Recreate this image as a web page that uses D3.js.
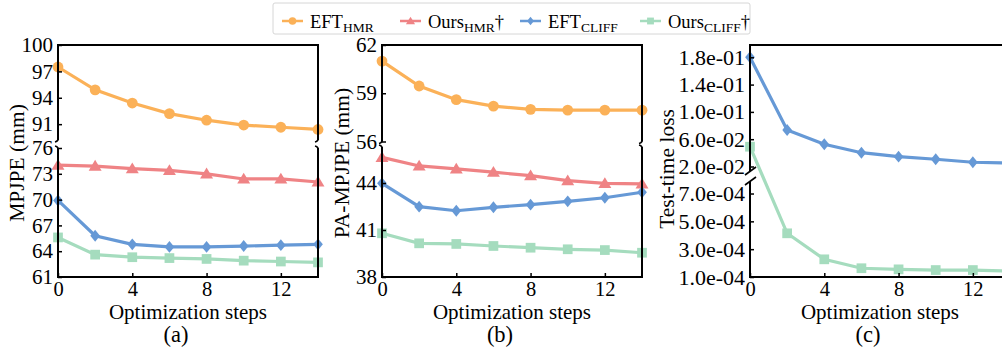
<!DOCTYPE html>
<html lang="en">
<head>
<meta charset="UTF-8">
<title>Optimization steps</title>
<script src="https://cdn.jsdelivr.net/npm/d3@7"></script>
<style>
    body { margin: 0; background: #fff; }
    svg { display: block; font-family: "Liberation Serif", "Times New Roman", serif; }
</style>
</head>
<body>
<svg width="1002" height="352"></svg>
<script>
    // data
    var steps = [0, 2, 4, 6, 8, 10, 12, 14];

    // (a) MPJPE
    var mpjpeEftHmr   = [97.5, 94.9, 93.4, 92.2, 91.45, 90.9, 90.65, 90.4];
    var mpjpeOursHmr  = [74.0, 73.9, 73.6, 73.4, 73.0, 72.4, 72.4, 72.05];
    var mpjpeEftCliff = [69.9, 65.8, 64.8, 64.5, 64.5, 64.6, 64.7, 64.8];
    var mpjpeOursCliff= [65.6, 63.6, 63.3, 63.2, 63.1, 62.9, 62.8, 62.7];

    // (b) PA-MPJPE
    var pampjpeEftHmr   = [61.0, 59.45, 58.6, 58.2, 58.0, 57.95, 57.95, 57.95];
    var pampjpeOursHmr  = [45.64, 45.09, 44.9, 44.69, 44.47, 44.15, 43.98, 43.94];
    var pampjpeEftCliff = [43.98, 42.49, 42.23, 42.45, 42.62, 42.83, 43.06, 43.41];
    var pampjpeOursCliff= [40.79, 40.15, 40.11, 39.98, 39.87, 39.77, 39.72, 39.55];

    // (c) test-time loss
    var lossEftCliff  = [0.180, 0.0735, 0.0525, 0.0402, 0.0344, 0.0306, 0.0262, 0.025];
    var lossOursCliff = [0.049, 4.14e-4, 2.27e-4, 1.63e-4, 1.55e-4, 1.5e-4, 1.5e-4, 1.43e-4];

    // tick labels
    var xTicks = [0, 4, 8, 12];
    var yTicksA = [61, 64, 67, 70, 73, 76, 91, 94, 97, 100];
    var yTicksB = [38, 41, 44, 56, 59, 62];
    var yTicksC = [1e-4, 3e-4, 5e-4, 7e-4, 0.02, 0.06, 0.10, 0.14, 0.18];

    // legend
    var seriesName = ['EFT', 'Ours', 'EFT', 'Ours'];
    var seriesSub = ['HMR', 'HMR', 'CLIFF', 'CLIFF'];
    var seriesMark = ['', '†', '', '†'];
    var colors = ['#FBB158', '#EF8385', '#6699D6', '#A5DCBE'];
    var shapes = ['circle', 'triangle', 'diamond', 'square'];

    var svg = d3.select('svg');
    var top0 = 45, bottom0 = 277, axW = 260;

    function markerPath(shape, s) {
        if (shape === 'circle') return d3.symbol(d3.symbolCircle, Math.PI * s * s)();
        if (shape === 'square') return 'M' + (-s * 0.9) + ',' + (-s * 0.9) + 'h' + (s * 1.8) + 'v' + (s * 1.8) + 'h' + (-s * 1.8) + 'Z';
        if (shape === 'diamond') return 'M0,' + (-s * 1.1) + 'L' + (s * 0.9) + ',0L0,' + (s * 1.1) + 'L' + (-s * 0.9) + ',0Z';
        // triangle
        return 'M0,' + (-s * 1.15) + 'L' + (s * 1.2) + ',' + (s * 0.85) + 'L' + (-s * 1.2) + ',' + (s * 0.85) + 'Z';
    }

    var panels = [
        { left: 58, yDomain: [61, 76, 89.2, 100], yRange: [bottom0, 148, 140, top0],
          ticks: yTicksA, fmt: d3.format('d'), tickSize: 21, label: 'MPJPE (mm)', labelX: 24, labelY: 163, cap: '(a)',
          brk: 'curl', series: [0, 1, 2, 3], values: [mpjpeEftHmr, mpjpeOursHmr, mpjpeEftCliff, mpjpeOursCliff] },
        { left: 382, yDomain: [38, 46.3, 56, 62], yRange: [bottom0, 147, 141.5, top0],
          ticks: yTicksB, fmt: d3.format('d'), tickSize: 21, label: 'PA-MPJPE (mm)', labelX: 349, labelY: 163, cap: '(b)',
          brk: 'curl', series: [0, 1, 2, 3], values: [pampjpeEftHmr, pampjpeOursHmr, pampjpeEftCliff, pampjpeOursCliff] },
        { left: 750, yDomain: [1e-4, 7.9e-4, 0.0134, 0.198], yRange: [bottom0, 181, 171, top0],
          ticks: yTicksC, fmt: function(d){ return d.toExponential(1).replace(/e([+-])(\d)$/, 'e$10$2'); },
          tickSize: 22, label: 'Test-time loss', labelX: 674, labelY: 169, cap: '(c)',
          brk: 'slash', series: [2, 3], values: [lossEftCliff, lossOursCliff] }
    ];

    panels.forEach(function(p) {
        var x = d3.scaleLinear().domain([0, 14]).range([p.left, p.left + axW]);
        var y = d3.scaleLinear().domain(p.yDomain).range(p.yRange);
        var right = p.left + axW;
        var bTop = p.yRange[2], bBot = p.yRange[1];
        var g = svg.append('g');

        // data lines + markers
        p.series.forEach(function(si, k) {
            var vals = p.values[k];
            var line = d3.line().x(function(d, i){ return x(steps[i]); }).y(function(d){ return y(d); });
            g.append('path').datum(vals)
                .attr('d', line)
                .attr('fill', 'none')
                .attr('stroke', colors[si])
                .attr('stroke-width', 3.2);
            g.selectAll(null).data(vals).enter().append('path')
                .attr('transform', function(d, i){ return 'translate(' + x(steps[i]) + ',' + y(d) + ')'; })
                .attr('d', markerPath(shapes[si], 5.4))
                .attr('fill', colors[si]);
        });

        // spines (broken)
        var spine = g.append('g').attr('fill', 'none').attr('stroke', '#000').attr('stroke-width', 2);
        spine.append('path').attr('d', 'M' + p.left + ',' + bTop + 'V' + top0 + 'H' + right + 'V' + bTop);
        spine.append('path').attr('d', 'M' + p.left + ',' + bBot + 'V' + bottom0 + 'H' + right + 'V' + bBot);

        // break marks
        var bm = g.append('g').attr('fill', 'none').attr('stroke', '#000').attr('stroke-width', 1.6);
        [p.left, right].forEach(function(sx) {
            if (p.brk === 'curl') {
                bm.append('path').attr('d', 'M' + sx + ',' + (bTop - 3) + 'Q' + (sx + 1) + ',' + (bTop + 1) + ' ' + (sx - 3) + ',' + (bTop + 2));
                bm.append('path').attr('d', 'M' + (sx - 3) + ',' + (bBot - 2) + 'Q' + (sx + 1) + ',' + (bBot - 1) + ' ' + sx + ',' + (bBot + 3));
            } else {
                bm.append('line').attr('x1', sx - 5).attr('y1', bTop + 4).attr('x2', sx + 6).attr('y2', bTop - 4);
                bm.append('line').attr('x1', sx - 5).attr('y1', bBot + 4).attr('x2', sx + 6).attr('y2', bBot - 4);
            }
        });

        // axes
        var ya = g.append('g').attr('transform', 'translate(' + p.left + ',0)')
            .call(d3.axisLeft(y).tickValues(p.ticks).tickFormat(p.fmt).tickSizeInner(-4).tickSizeOuter(0).tickPadding(5));
        ya.attr('font-size', p.tickSize);
        var xa = g.append('g').attr('transform', 'translate(0,' + bottom0 + ')')
            .call(d3.axisBottom(x).tickValues(xTicks).tickFormat(d3.format('d')).tickSizeInner(-4).tickSizeOuter(0).tickPadding(4));
        xa.attr('font-size', 20.5);
        [ya, xa].forEach(function(a) {
            a.select('.domain').remove();
            a.attr('font-family', null);
            a.selectAll('line').attr('stroke-width', 1.5);
            a.selectAll('text').attr('fill', '#000');
        });

        // labels
        g.append('text')
            .attr('transform', 'translate(' + p.labelX + ',' + p.labelY + ') rotate(-90)')
            .attr('text-anchor', 'middle')
            .attr('font-size', 21.5)
            .text(p.label);
        g.append('text')
            .attr('x', p.left + axW / 2).attr('y', 318.5)
            .attr('text-anchor', 'middle')
            .attr('font-size', 21)
            .text('Optimization steps');
        g.append('text')
            .attr('x', p.left + axW / 2 - 12).attr('y', 342)
            .attr('text-anchor', 'middle')
            .attr('font-size', 22.5)
            .text(p.cap);
    });

    // legend
    var legendX = [282, 400, 520, 640];
    var lg = svg.append('g');
    lg.append('rect')
        .attr('x', 273).attr('y', 3).attr('width', 477).attr('height', 31)
        .attr('rx', 2)
        .attr('fill', '#fff').attr('stroke', '#d6d6d6').attr('stroke-width', 1);
    var item = lg.selectAll('g.item').data(seriesName).enter().append('g')
        .attr('class', 'item')
        .attr('transform', function(d, i){ return 'translate(' + legendX[i] + ',21)'; });
    item.append('line')
        .attr('x1', 0).attr('x2', 21)
        .attr('stroke', function(d, i){ return colors[i]; })
        .attr('stroke-width', 2.5);
    item.append('path')
        .attr('transform', 'translate(10.5,0)')
        .attr('d', function(d, i){ return markerPath(shapes[i], 3.8); })
        .attr('fill', function(d, i){ return colors[i]; });
    var t = item.append('text')
        .attr('x', 28).attr('y', 6.5)
        .attr('font-size', 18.5);
    t.append('tspan').text(function(d){ return d; });
    t.append('tspan').attr('dy', 4).attr('font-size', 13.5).text(function(d, i){ return seriesSub[i]; });
    t.append('tspan').attr('dy', -4).text(function(d, i){ return seriesMark[i]; });
</script>
</body>
</html>
